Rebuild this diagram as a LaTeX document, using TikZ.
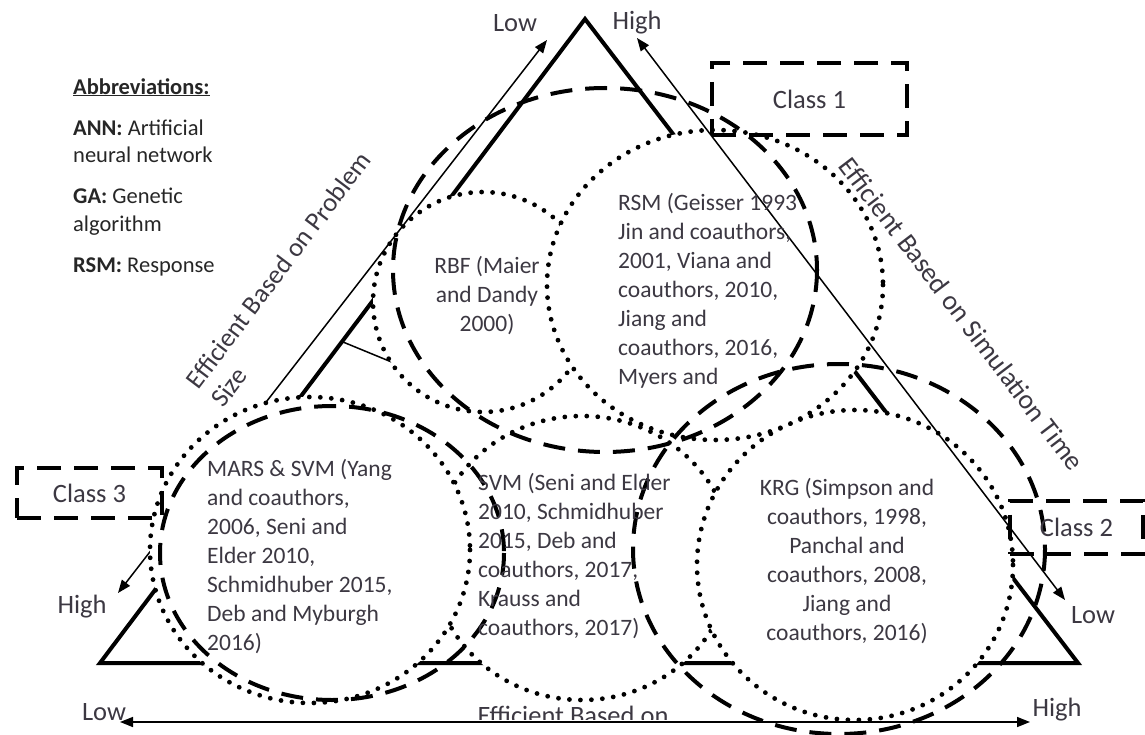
\documentclass[tikz,border=0pt]{standalone}
\usepackage{fontspec}
\setmainfont{Carlito}
\usetikzlibrary{arrows.meta}
\definecolor{inktext}{RGB}{60,56,66}
\tikzset{
  edge/.style={line width=4pt, line join=miter},
  dotring/.style={draw, fill=white, line width=4.8pt, line cap=round, dash pattern=on 0pt off 11pt},
  dashring/.style={line width=4pt, dash pattern=on 22pt off 13pt},
  classbox/.style={draw, line width=4pt, dash pattern=on 24pt off 13pt, inner sep=0pt,
    font=\fontsize{26.5}{32}\selectfont, text=inktext},
  thinarrow/.style={line width=1.5pt, {Triangle[length=13pt,width=10pt]}-{Triangle[length=13pt,width=10pt]}},
  thinline/.style={line width=1.5pt},
  cite/.style={font=\fontsize{23.5}{29}\selectfont, text=inktext, inner sep=0pt},
  axislabel/.style={font=\fontsize{26.5}{32}\selectfont, text=inktext, inner sep=0pt},
  abbrev/.style={font=\fontsize{22.5}{27.5}\selectfont, text=black!85, inner sep=0pt, align=left},
}
\begin{document}
\begin{tikzpicture}[x=1pt, y=-1pt]
\useasboundingbox (0,0) rectangle (1145,735);

% corner points of the triangle
\coordinate (apex) at (585,19);
\coordinate (bl) at (100,663);
\coordinate (br) at (1078,663);
\draw[edge] (apex) -- (bl) -- (br) -- cycle;

% short tick between the left side and the RBF circle
\coordinate (tickA) at (343,342);
\coordinate (tickB) at (394,363);
\draw[thinline] (tickA) -- (tickB);

% method circles (white filled, later ones cover earlier ones)
\path[dotring] (582,558) ellipse [x radius=150, y radius=142];   % SVM
\path[dotring] (855,565) ellipse [x radius=158, y radius=155];   % KRG
\path[dotring] (483,302) circle [radius=110];                    % RBF
\path[dotring] (715,285) ellipse [x radius=168, y radius=155];   % RSM

% problem size axis
\coordinate (psHigh) at (118,593);
\coordinate (psLow) at (547,40);
\draw[thinarrow] (psHigh) -- (psLow);

\path[dotring] (310,550) ellipse [x radius=160, y radius=153];   % MARS

% class groupings
\draw[dashring] (605,270) ellipse [x radius=212, y radius=182];  % class 1
\draw[dashring] (839,549) ellipse [x radius=206, y radius=185];  % class 2
\draw[dashring] (332,553) ellipse [x radius=172, y radius=147];  % class 3

\node[classbox, minimum width=195pt, minimum height=72pt] (c1) at (809.5,99) {Class 1};
\node[classbox, minimum width=133pt, minimum height=53pt] (c2) at (1076.5,527) {\raisebox{-4pt}{Class 2}};
\node[classbox, minimum width=145pt, minimum height=50pt] (c3) at (89.5,493) {\raisebox{-3pt}{Class 3}};

% simulation time axis
\coordinate (stHigh) at (637,38);
\coordinate (stLow) at (1065,600);
\draw[thinarrow] (stHigh) -- (stLow);

% bottom axis
\coordinate (bxLow) at (120,722);
\coordinate (bxHigh) at (1030,722);
\draw[thinarrow] (bxLow) -- (bxHigh);

% axis end labels
\node[axislabel] (lowTop) at (515,23) {Low};
\node[axislabel] (highTop) at (637,23) {High};
\node[axislabel] (highLeft) at (82,607) {High};
\node[axislabel] (lowRight) at (1093,615) {Low};
\node[axislabel] (lowBottom) at (104,712) {Low};
\node[axislabel] (highBottom) at (1057,710) {High};

% axis titles
\node[axislabel, font=\fontsize{26.5}{31}\selectfont, align=left, anchor=north west, rotate=52.9]
  (psTitle) at (184,379) {Efficient Based on Problem\\Size};
\node[axislabel, font=\fontsize{27.5}{33}\selectfont, rotate=-52.7] (stTitle) at (962,314)
  {Efficient Based on Simulation Time};
\begin{scope}
  \clip (400,600) rectangle (760,719);
  \node[axislabel, anchor=base] (bxTitle) at (573,724) {Efficient Based on};
\end{scope}

% circle contents
\node[cite, align=center] (rbfText) at (487,296) {RBF (Maier\\and Dandy\\2000)};
\node[cite, align=left, anchor=west] (rsmText) at (618,291)
  {RSM (Geisser 1993\\Jin and coauthors,\\2001, Viana and\\coauthors, 2010,\\Jiang and\\coauthors, 2016,\\Myers and};
\node[cite, align=left, anchor=west] (marsText) at (207,557)
  {MARS \& SVM (Yang\\and coauthors,\\2006, Seni and\\Elder 2010,\\Schmidhuber 2015,\\Deb and Myburgh\\2016)};
\node[cite, align=left, anchor=west] (svmText) at (478,556)
  {SVM (Seni and Elder\\2010, Schmidhuber\\2015, Deb and\\coauthors, 2017,\\Krauss and\\coauthors, 2017)};
\node[cite, align=center] (krgText) at (847,561)
  {KRG (Simpson and\\coauthors, 1998,\\Panchal and\\coauthors, 2008,\\Jiang and\\coauthors, 2016)};

% abbreviations list
\node[abbrev, anchor=west] (abbr) at (73,177)
  {\underline{\textbf{Abbreviations:}}\\[13.5pt]
   \textbf{ANN:} Artificial\\neural network\\[13.5pt]
   \textbf{GA:} Genetic\\algorithm\\[13.5pt]
   \textbf{RSM:} Response};
\end{tikzpicture}
\end{document}
